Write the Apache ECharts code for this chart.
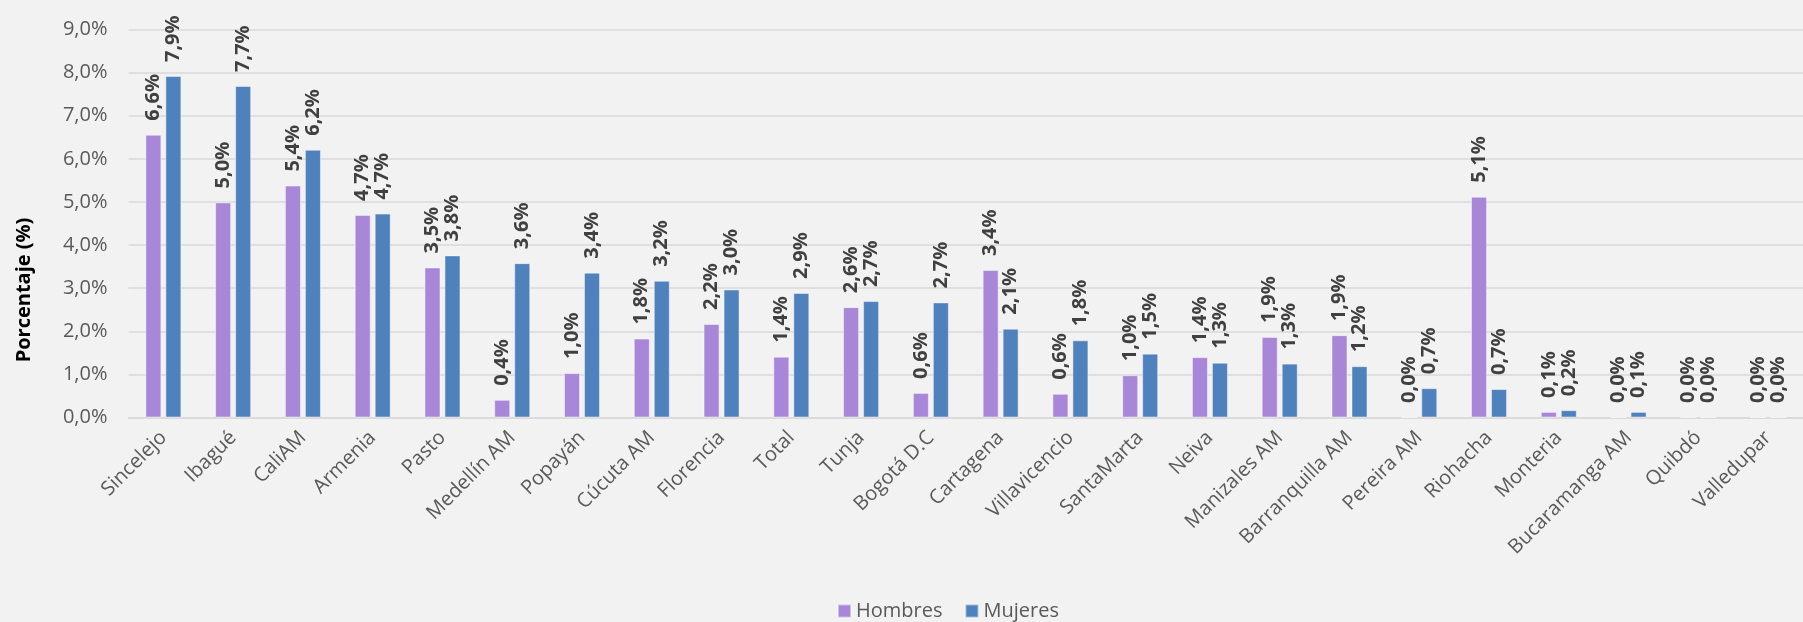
<!DOCTYPE html>
<html>
<head>
<meta charset="utf-8">
<script src="https://cdn.jsdelivr.net/npm/echarts@6/dist/echarts.min.js"></script>
<style>
  html, body { margin: 0; padding: 0; background: #F2F2F2; }
  #chart { width: 1803px; height: 622px; }
</style>
</head>
<body>
<div id="chart"></div>
<script>
const categories = ['Sincelejo', 'Ibagué', 'CaliAM', 'Armenia', 'Pasto', 'Medellín AM', 'Popayán', 'Cúcuta AM', 'Florencia', 'Total', 'Tunja', 'Bogotá D.C', 'Cartagena', 'Villavicencio', 'SantaMarta', 'Neiva', 'Manizales AM', 'Barranquilla AM', 'Pereira AM', 'Riohacha', 'Monteria', 'Bucaramanga AM', 'Quibdó', 'Valledupar'];
const hombres = [6.56, 4.99, 5.38, 4.70, 3.48, 0.41, 1.03, 1.83, 2.17, 1.41, 2.56, 0.57, 3.42, 0.55, 0.98, 1.40, 1.87, 1.91, 0.0, 5.12, 0.13, 0.0, 0.0, 0.0];
const mujeres = [7.92, 7.69, 6.21, 4.73, 3.76, 3.58, 3.36, 3.17, 2.97, 2.89, 2.70, 2.67, 2.06, 1.79, 1.48, 1.27, 1.25, 1.19, 0.68, 0.66, 0.17, 0.13, 0.0, 0.0];
const yTicks = { min: 0, max: 9, interval: 1 };
const seriesNames = ['Hombres', 'Mujeres'];
const yTitle = 'Porcentaje (%)';

const FONT = '"Open Sans", "Noto Sans", sans-serif';
const fmt = v => v.toFixed(1).replace('.', ',') + '%';

const chart = echarts.init(document.getElementById('chart'), null, { renderer: 'canvas' });

const labelCfg = {
  show: true,
  position: 'top',
  rotate: 90,
  align: 'left',
  verticalAlign: 'middle',
  distance: 14,
  color: '#404040',
  fontFamily: FONT,
  fontWeight: 'bold',
  fontSize: 20,
  formatter: p => fmt(p.value)
};

chart.setOption({
  backgroundColor: '#F2F2F2',
  animation: false,
  grid: { left: 128.5, right: -8, top: 29.5, bottom: 204.5, containLabel: false },
  graphic: [{
    type: 'text',
    x: 24,
    y: 290,
    rotation: Math.PI / 2,
    style: {
      text: yTitle,
      fill: '#000000',
      font: 'bold 20px ' + FONT,
      align: 'center',
      verticalAlign: 'middle'
    }
  }],
  legend: {
    data: seriesNames,
    left: 837,
    top: 599,
    padding: 0,
    itemWidth: 13,
    itemHeight: 13,
    itemGap: 22,
    icon: 'rect',
    textStyle: { color: '#595959', fontSize: 20, fontFamily: FONT, lineHeight: 24 }
  },
  xAxis: {
    type: 'category',
    data: categories,
    axisTick: { show: false },
    axisLine: { show: true, lineStyle: { color: '#D9D9D9', width: 1.5 } },
    axisLabel: {
      interval: 0,
      rotate: 45,
      color: '#595959',
      fontSize: 20,
      fontFamily: FONT,
      margin: 17
    }
  },
  yAxis: {
    type: 'value',
    min: yTicks.min,
    max: yTicks.max,
    interval: yTicks.interval,
    axisLine: { show: false },
    axisTick: { show: false },
    splitLine: { lineStyle: { color: '#D9D9D9', width: 1.5 } },
    axisLabel: {
      color: '#595959',
      fontSize: 20,
      fontFamily: FONT,
      margin: 21,
      formatter: v => fmt(v)
    }
  },
  series: [
    {
      name: seriesNames[0],
      type: 'bar',
      data: hombres,
      barWidth: 16,
      barGap: '25%',
      itemStyle: { color: '#A886D8', borderColor: 'rgba(255,255,255,0.45)', borderWidth: 1 },
      label: labelCfg
    },
    {
      name: seriesNames[1],
      type: 'bar',
      data: mujeres,
      barWidth: 16,
      barGap: '25%',
      itemStyle: { color: '#4F81BD', borderColor: 'rgba(255,255,255,0.45)', borderWidth: 1 },
      label: labelCfg
    }
  ]
});
</script>
</body>
</html>
